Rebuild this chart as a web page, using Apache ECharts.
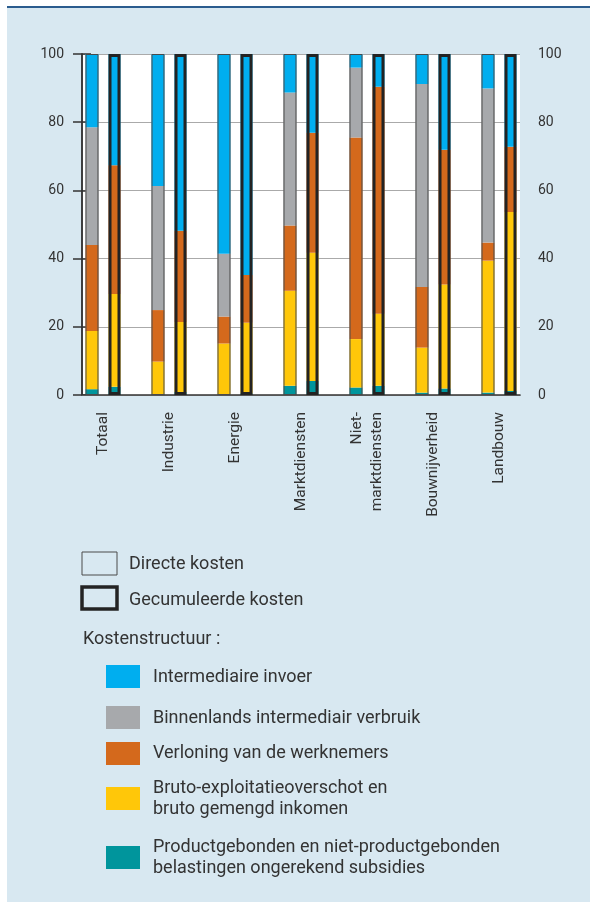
<!DOCTYPE html>
<html>
<head>
<meta charset="utf-8">
<script src="https://cdn.jsdelivr.net/npm/echarts@6/dist/echarts.min.js"></script>
<style>
body { margin: 0; background: #fff; }
#wrap { position: relative; width: 590px; height: 902px; }
#panel { position: absolute; left: 7px; top: 6px; right: 0; bottom: 0; background: #d8e8f1; border-top: 2px solid #2b5c8e; }
#chart { position: absolute; left: 0; top: 0; width: 590px; height: 902px; }
</style>
</head>
<body>
<div id="wrap">
  <div id="panel"></div>
  <div id="chart"></div>
</div>
<script>
// sectoren
const categories = ['Totaal', 'Industrie', 'Energie', 'Marktdiensten', 'Niet-\nmarktdiensten', 'Bouwnijverheid', 'Landbouw']
const yTicks = [0, 20, 40, 60, 80, 100]

// directe kosten (%)
const belastDirect = [1.7, 0.3, 0.2, 2.7, 2.2, 0.7, 0.7]
const brutoDirect = [17.1, 9.5, 14.9, 27.9, 14.2, 13.2, 38.7]
const verloningDirect = [25.2, 15.1, 7.9, 19.1, 59.1, 17.8, 5.3]
const binnenDirect = [34.5, 36.4, 18.4, 39.0, 20.5, 59.5, 45.2]
const invoerDirect = [21.5, 38.7, 58.6, 11.3, 4.0, 8.8, 10.1]

// gecumuleerde kosten (%)
const belastCum = [2.4, 0.9, 0.5, 4.1, 2.7, 1.9, 1.2]
const brutoCum = [27.2, 20.5, 20.7, 37.6, 21.1, 30.5, 52.5]
const verloningCum = [37.8, 26.8, 14.0, 35.2, 66.6, 39.5, 19.1]
const binnenCum = [0, 0, 0, 0, 0, 0, 0]
const invoerCum = [32.6, 51.8, 64.8, 23.1, 9.6, 28.1, 27.2]

const names = [
  'Productgebonden en niet-productgebonden\nbelastingen ongerekend subsidies',
  'Bruto-exploitatieoverschot en\nbruto gemengd inkomen',
  'Verloning van de werknemers',
  'Binnenlands intermediair verbruik',
  'Intermediaire invoer'
]
const colors = ['#00959c', '#ffc709', '#d4691c', '#a7a9ac', '#00aeef']

const directSets = [belastDirect, brutoDirect, verloningDirect, binnenDirect, invoerDirect]
const cumSets = [belastCum, brutoCum, verloningCum, binnenCum, invoerCum]
const sumOf = sets => categories.map((c, i) => sets.reduce((s, a) => s + a[i], 0))

const font = 'Roboto'
const txt = '#333'

const chart = echarts.init(document.getElementById('chart'))

const series = []
directSets.forEach((d, k) => {
  series.push({
    name: names[k], type: 'bar', stack: 'direct', xAxisIndex: 2, yAxisIndex: 2,
    barWidth: 13, barGap: '77%', data: d, silent: true,
    itemStyle: { color: colors[k] }
  })
})
cumSets.forEach((d, k) => {
  series.push({
    name: names[k] + ' (cum)', type: 'bar', stack: 'cum', xAxisIndex: 2, yAxisIndex: 2,
    barWidth: 12, barGap: '77%', data: d, silent: true,
    itemStyle: { color: colors[k] }
  })
})
// kaders rond de staven
series.push({
  type: 'bar', xAxisIndex: 3, yAxisIndex: 2, barWidth: 13, barGap: '77%', z: 5, silent: true,
  data: sumOf(directSets),
  itemStyle: { color: 'rgba(0,0,0,0)', borderColor: '#4a4a4a', borderWidth: 1 }
})
series.push({
  type: 'bar', xAxisIndex: 3, yAxisIndex: 2, barWidth: 12, barGap: '77%', z: 5, silent: true,
  data: sumOf(cumSets),
  itemStyle: { color: 'rgba(0,0,0,0)', borderColor: '#232323', borderWidth: 3 }
})

const legendY = [677, 718, 753, 799, 858]
const legendRectY = [665, 706, 742, 787, 846]
const graphic = [
  { type: 'rect', shape: { x: 82, y: 552, width: 35, height: 23 }, style: { fill: 'rgba(0,0,0,0)', stroke: '#4a4a4a', lineWidth: 1 } },
  { type: 'text', x: 129, y: 564, style: { text: 'Directe kosten', font: '18px ' + font, fill: txt, verticalAlign: 'middle' } },
  { type: 'rect', shape: { x: 82, y: 587, width: 35, height: 22 }, style: { fill: 'rgba(0,0,0,0)', stroke: '#232323', lineWidth: 3.5 } },
  { type: 'text', x: 129, y: 600, style: { text: 'Gecumuleerde kosten', font: '18px ' + font, fill: txt, verticalAlign: 'middle' } },
  { type: 'text', x: 83, y: 639, style: { text: 'Kostenstructuur :', font: '18px ' + font, fill: txt, verticalAlign: 'middle' } }
]
for (let k = 4; k >= 0; k--) {
  const row = 4 - k
  graphic.push({ type: 'rect', shape: { x: 106, y: legendRectY[row], width: 34, height: 23 }, style: { fill: colors[k] } })
  graphic.push({ type: 'text', x: 153, y: legendY[row], style: { text: names[k], font: '18px ' + font, fill: txt, verticalAlign: 'middle', lineHeight: 21 } })
}

const yAxisCommon = {
  type: 'value', gridIndex: 0, min: 0, max: 100, interval: 20,
  axisLine: { show: true, lineStyle: { color: '#333', width: 1.5 } },
  axisTick: { show: true, length: 9, lineStyle: { color: '#333', width: 1.5 } },
  axisLabel: { fontFamily: font, fontSize: 14, color: txt, margin: 18, customValues: yTicks },
  splitLine: { show: true, lineStyle: { color: '#aaa', width: 1 } }
}

chart.setOption({
  animation: false,
  textStyle: { fontFamily: font },
  graphic: graphic,
  grid: [
    { left: 82, right: 70, top: 54, bottom: 507, show: true, backgroundColor: '#fff', borderWidth: 0 },
    { left: 70, right: 58, top: 54, bottom: 507 }
  ],
  xAxis: [
    { type: 'value', gridIndex: 0, min: 0, max: 1, position: 'bottom', z: 3,
      axisLine: { show: true, lineStyle: { color: '#333', width: 1.5 } },
      axisTick: { show: false }, axisLabel: { show: false }, splitLine: { show: false } },
    { type: 'value', gridIndex: 0, min: 0, max: 1, position: 'top', z: 3,
      axisLine: { show: true, lineStyle: { color: '#555', width: 1 } },
      axisTick: { show: false }, axisLabel: { show: false }, splitLine: { show: false } },
    { type: 'category', gridIndex: 1, data: categories, position: 'bottom',
      axisLine: { show: false }, axisTick: { show: false },
      axisLabel: { rotate: 90, margin: 17, fontFamily: font, fontSize: 15.5, color: txt, lineHeight: 20, interval: 0 } },
    { type: 'category', gridIndex: 1, data: categories, show: false }
  ],
  yAxis: [
    Object.assign({}, yAxisCommon, { position: 'left' }),
    Object.assign({}, yAxisCommon, { position: 'right' }),
    { type: 'value', gridIndex: 1, min: 0, max: 100, show: false, splitLine: { show: false } }
  ],
  series: series
})
</script>
</body>
</html>
